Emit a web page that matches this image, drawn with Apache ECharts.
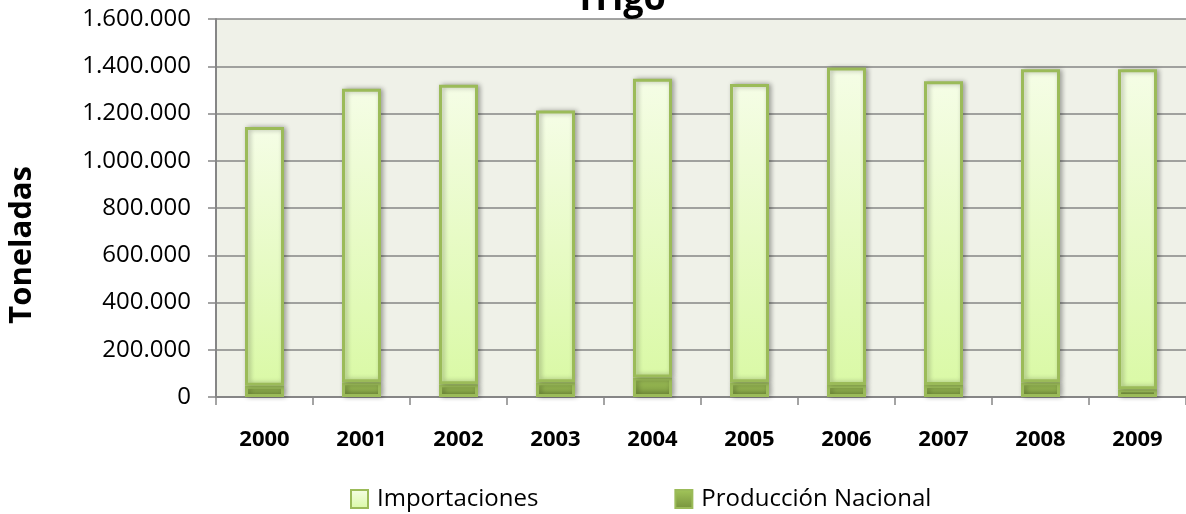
<!DOCTYPE html>
<html>
<head>
<meta charset="utf-8">
<script src="https://cdn.jsdelivr.net/npm/echarts@6/dist/echarts.min.js"></script>
<style>
  html, body { margin: 0; padding: 0; background: #fff; }
  #main { width: 1186px; height: 514px; }
</style>
</head>
<body>
<div id="main"></div>
<script>
const years = ['2000', '2001', '2002', '2003', '2004', '2005', '2006', '2007', '2008', '2009']
const produccion = [48000, 62000, 54000, 62000, 83000, 62000, 51000, 51000, 62000, 33000]
const importaciones = [1095000, 1243000, 1268000, 1151000, 1264000, 1263000, 1344000, 1285000, 1325000, 1354000]
const yTicks = [0, 200000, 400000, 600000, 800000, 1000000, 1200000, 1400000, 1600000]

const font = '"Open Sans", "Liberation Sans", sans-serif'
const fmt = v => String(v).replace(/\B(?=(\d{3})+(?!\d))/g, '.')

const myChart = echarts.init(document.getElementById('main'))
myChart.setOption({
    backgroundColor: '#ffffff',
    animation: false,
    title: {
        text: 'Trigo',
        left: 570,
        top: -23,
        textStyle: { fontFamily: font, fontSize: 36, fontWeight: 'bold', color: '#000' }
    },
    legend: {
        data: ['Importaciones', 'Producción Nacional'],
        icon: 'rect',
        left: 345,
        top: 482,
        itemWidth: 17,
        itemHeight: 18,
        itemGap: 136,
        textStyle: { fontFamily: font, fontSize: 24, color: '#000', padding: [0, 0, 0, 4] }
    },
    graphic: [{
        type: 'text',
        left: 7,
        top: 166,
        rotation: Math.PI / 2,
        style: { text: 'Toneladas', fontFamily: font, fontSize: 31, fontWeight: 'bold', fill: '#000' }
    }],
    grid: {
        left: 216,
        right: 0,
        top: 19,
        bottom: 117,
        show: true,
        backgroundColor: '#eff1e8',
        borderWidth: 0
    },
    xAxis: {
        type: 'category',
        data: years,
        axisLine: { lineStyle: { color: '#868686', width: 2 } },
        axisTick: { show: true, length: 8, lineStyle: { color: '#868686', width: 1.5 } },
        axisLabel: { margin: 32, fontFamily: font, fontSize: 22, fontWeight: 'bold', color: '#000' }
    },
    yAxis: {
        type: 'value',
        min: yTicks[0],
        max: yTicks[yTicks.length - 1],
        interval: yTicks[1] - yTicks[0],
        axisLine: { show: true, lineStyle: { color: '#868686', width: 2 } },
        axisTick: { show: true, length: 8, lineStyle: { color: '#868686', width: 1.5 } },
        splitLine: { lineStyle: { color: '#868686', width: 1.5 } },
        axisLabel: { margin: 25, fontFamily: font, fontSize: 24, color: '#000', formatter: fmt }
    },
    series: [{
        name: 'Producción Nacional',
        type: 'bar',
        stack: 'total',
        barWidth: 39,
        data: produccion,
        itemStyle: {
            color: new echarts.graphic.LinearGradient(0, 0, 0, 1, [
                { offset: 0, color: '#a3c65b' },
                { offset: 1, color: '#77933c' }
            ]),
            borderColor: '#9bbb59',
            borderWidth: 3,
            shadowBlur: 5,
            shadowOffsetX: 2,
            shadowColor: 'rgba(0,0,0,0.3)'
        }
    }, {
        name: 'Importaciones',
        type: 'bar',
        stack: 'total',
        barWidth: 39,
        data: importaciones,
        itemStyle: {
            color: new echarts.graphic.LinearGradient(0, 0, 0, 1, [
                { offset: 0, color: '#f5fde6' },
                { offset: 1, color: '#daf9a6' }
            ]),
            borderColor: '#9bbb59',
            borderWidth: 3,
            shadowBlur: 5,
            shadowOffsetX: 2,
            shadowColor: 'rgba(0,0,0,0.3)'
        }
    }]
})
</script>
</body>
</html>
